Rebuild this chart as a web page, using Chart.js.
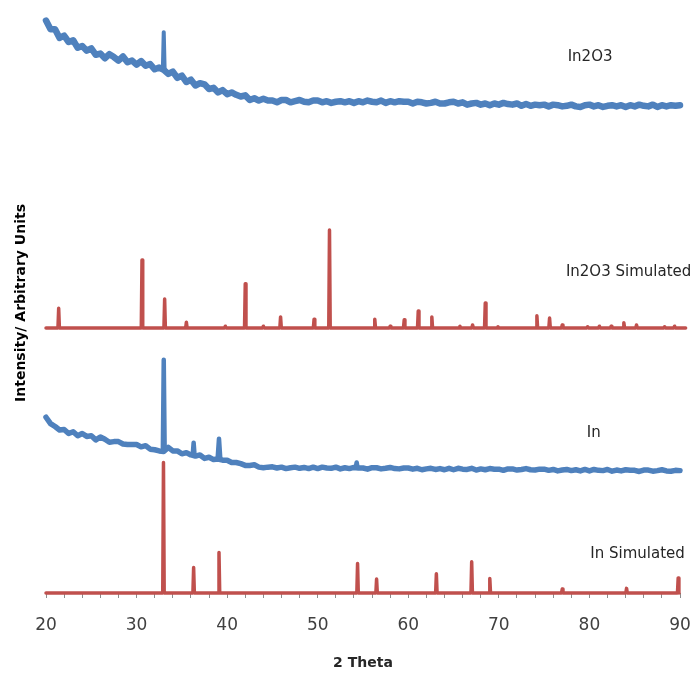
<!DOCTYPE html>
<html>
<head>
<meta charset="utf-8">
<script src="https://cdn.jsdelivr.net/npm/chart.js@4"></script>
<style>
  html, body { margin: 0; padding: 0; background: #fff; }
  canvas { display: block; }
</style>
</head>
<body>
<canvas id="xrd" width="694" height="676"></canvas>
<script>
// Powder XRD patterns, stacked with arbitrary intensity offsets.

// Measured scans: background counts on a 0.5° grid starting at 20°
const scanStart = 20;
const scanStep = 0.5;

const in2o3Counts = [
  98.7, 97.2, 97.2, 95.7, 96.1, 95.0, 95.3, 94.0, 94.3, 93.5,
  93.9, 92.8, 93.0, 92.2, 92.9, 92.4, 91.8, 92.5, 91.5, 91.8,
  91.1, 91.7, 90.9, 91.2, 90.3, 90.6, 90.2, 89.5, 89.9, 88.8,
  89.2, 88.1, 88.5, 87.5, 87.9, 87.7, 86.9, 87.1, 86.3, 86.7,
  86.0, 86.3, 85.9, 85.6, 85.8, 85.0, 85.3, 84.9, 85.2, 84.9,
  84.9, 84.6, 85.0, 85.0, 84.6, 84.8, 85.0, 84.7, 84.6, 84.9,
  84.9, 84.6, 84.8, 84.5, 84.7, 84.8, 84.6, 84.8, 84.5, 84.8,
  84.6, 84.9, 84.7, 84.6, 84.9, 84.5, 84.8, 84.6, 84.8, 84.7,
  84.7, 84.4, 84.7, 84.6, 84.4, 84.5, 84.7, 84.4, 84.4, 84.6,
  84.7, 84.4, 84.6, 84.2, 84.4, 84.5, 84.2, 84.4, 84.1, 84.4,
  84.2, 84.5, 84.3, 84.2, 84.4, 84.0, 84.3, 84.0, 84.2, 84.1,
  84.2, 83.9, 84.2, 84.1, 83.9, 84.0, 84.2, 83.9, 83.8, 84.1,
  84.2, 83.9, 84.1, 83.8, 84.0, 84.1, 83.9, 84.1, 83.8, 84.1,
  83.9, 84.2, 84.0, 83.9, 84.2, 83.8, 84.1, 83.9, 84.1, 84.0,
  84.1, 83.9, 84.0
];
// sharp reflections, finer sampling: [2θ, counts]
const in2o3Reflections = [
  [[32.9, 90.3], [33.0, 96.7], [33.1, 90.1]]
];

const inCounts = [
  30.3, 29.2, 28.7, 28.1, 28.2, 27.5, 27.8, 27.1, 27.5, 27.0,
  27.1, 26.4, 26.9, 26.5, 26.0, 26.1, 26.1, 25.7, 25.6, 25.6,
  25.6, 25.2, 25.4, 24.8, 24.7, 24.5, 24.4, 25.1, 24.5, 24.5,
  24.0, 24.2, 23.8, 23.6, 23.8, 23.2, 23.4, 23.0, 23.1, 22.9,
  22.9, 22.5, 22.5, 22.3, 22.0, 22.0, 22.1, 21.7, 21.6, 21.7,
  21.75, 21.55, 21.7, 21.45, 21.6, 21.7, 21.5, 21.65, 21.45, 21.7,
  21.45, 21.7, 21.55, 21.5, 21.7, 21.4, 21.6, 21.45, 21.65, 21.55,
  21.55, 21.35, 21.6, 21.6, 21.4, 21.5, 21.65, 21.45, 21.4, 21.55,
  21.55, 21.35, 21.5, 21.25, 21.4, 21.5, 21.3, 21.45, 21.25, 21.5,
  21.25, 21.5, 21.35, 21.3, 21.5, 21.2, 21.4, 21.25, 21.45, 21.35,
  21.35, 21.15, 21.4, 21.4, 21.2, 21.3, 21.45, 21.25, 21.2, 21.35,
  21.35, 21.15, 21.3, 21.05, 21.2, 21.3, 21.1, 21.25, 21.05, 21.3,
  21.05, 21.3, 21.15, 21.1, 21.3, 21.0, 21.2, 21.05, 21.25, 21.15,
  21.15, 20.95, 21.2, 21.2, 21.0, 21.1, 21.25, 21.05, 21.0, 21.15,
  21.1
];
const inReflections = [
  [[32.9, 24.4], [33.0, 40.2], [33.1, 24.6]],
  [[36.2, 23.8], [36.3, 25.9], [36.4, 23.8]],
  [[38.95, 23.2], [39.1, 26.6], [39.25, 23.0]],
  [[54.2, 21.6], [54.3, 22.5], [54.4, 21.6]]
];

// Simulated patterns: peak positions (2θ) and relative intensities
const in2o3SimTheta = [21.4, 30.6, 33.1, 35.5, 39.8, 42.0, 44.0, 45.9, 49.6, 51.3,
  56.3, 58.0, 59.55, 61.1, 62.6, 65.7, 67.1, 68.5, 69.9, 74.2,
  75.6, 77.0, 79.8, 81.1, 82.4, 83.8, 85.2, 88.3, 89.4, 90.7];
const in2o3SimIntensity = [3.4, 11.7, 5.0, 1.0, 0.3, 7.6, 0.3, 1.9, 1.5, 16.9,
  1.5, 0.3, 1.4, 2.9, 1.9, 0.3, 0.5, 4.3, 0.2, 2.1,
  1.7, 0.5, 0.2, 0.3, 0.3, 0.9, 0.5, 0.2, 0.3, 1.4];
const in2o3SimRange = [20, 90.8];
const in2o3SimOffset = 45.7;

const inSimTheta = [32.97, 36.3, 39.1, 54.4, 56.5, 63.1, 67.0, 69.0, 77.0, 84.1, 89.8];
const inSimIntensity = [22.5, 4.4, 7.0, 5.1, 2.4, 3.3, 5.4, 2.5, 0.7, 0.8, 2.6];
const inSimRange = [20, 89.9];
const inSimOffset = 0;

// Axis
const xMin = 20, xMax = 90, xMinorStep = 2, xLabelStep = 10;

const seriesLabels = [
  { text: 'In2O3',           x: 77.6, y: 92.4 },
  { text: 'In2O3 Simulated', x: 77.4, y: 55.3 },
  { text: 'In',              x: 79.7, y: 27.6 },
  { text: 'In Simulated',    x: 80.1, y: 6.7 }
];

// ---- build point lists ----
function scanPoints(counts) {
  return counts.map((c, i) => ({ x: scanStart + i * scanStep, y: c }));
}

// each reflection is its own short segment, separated by gaps
function reflectionPoints(reflections) {
  const pts = [];
  reflections.forEach((r, k) => {
    if (k > 0) pts.push({ x: r[0][0], y: null });
    r.forEach(([t, c]) => pts.push({ x: t, y: c }));
  });
  return pts;
}

function stickPoints(theta, intensity, offset, range) {
  const half = 0.08;
  const pts = [{ x: range[0], y: offset }];
  theta.forEach((t, i) => {
    pts.push({ x: t - half, y: offset });
    pts.push({ x: t, y: offset + intensity[i] });
    pts.push({ x: t + half, y: offset });
  });
  pts.push({ x: range[1], y: offset });
  return pts;
}

const BLUE = '#4F81BD';
const RED = '#C0504D';

const seriesLabelPlugin = {
  id: 'seriesLabels',
  afterDatasetsDraw(chart) {
    const { ctx, scales: { x, y } } = chart;
    ctx.save();
    ctx.font = '15px "DejaVu Sans"';
    ctx.fillStyle = '#262626';
    ctx.textAlign = 'left';
    ctx.textBaseline = 'middle';
    seriesLabels.forEach(l => {
      ctx.fillText(l.text, x.getPixelForValue(l.x), y.getPixelForValue(l.y));
    });
    ctx.restore();
  }
};

const common = { pointRadius: 0, tension: 0, clip: false, borderJoinStyle: 'round', borderCapStyle: 'round', fill: false, spanGaps: false };

new Chart(document.getElementById('xrd'), {
  type: 'line',
  data: {
    datasets: [
      { ...common, label: 'In2O3', data: scanPoints(in2o3Counts), borderColor: BLUE, borderWidth: 6.5 },
      { ...common, label: 'In2O3 reflections', data: reflectionPoints(in2o3Reflections), borderColor: BLUE, borderWidth: 4 },
      { ...common, label: 'In2O3 Simulated', data: stickPoints(in2o3SimTheta, in2o3SimIntensity, in2o3SimOffset, in2o3SimRange), borderColor: RED, borderWidth: 3.5 },
      { ...common, label: 'In', data: scanPoints(inCounts), borderColor: BLUE, borderWidth: 5.5 },
      { ...common, label: 'In reflections', data: reflectionPoints(inReflections), borderColor: BLUE, borderWidth: 4.5 },
      { ...common, label: 'In Simulated', data: stickPoints(inSimTheta, inSimIntensity, inSimOffset, inSimRange), borderColor: RED, borderWidth: 3.5 }
    ]
  },
  options: {
    responsive: false,
    animation: false,
    events: [],
    layout: { padding: { top: 13, left: 8.6, right: 14, bottom: 0 } },
    plugins: { legend: { display: false }, tooltip: { enabled: false } },
    scales: {
      x: {
        type: 'linear',
        min: xMin,
        max: xMax,
        afterFit(scale) {
          // keep the plot edges fixed regardless of tick label padding
          scale.paddingLeft = 10;
          scale.paddingRight = 10;
        },
        grid: { display: true, drawOnChartArea: false, drawTicks: true, tickLength: 5, color: '#8c8c8c', lineWidth: 1 },
        border: { display: true, color: '#868686', width: 1 },
        ticks: {
          stepSize: xMinorStep,
          autoSkip: false,
          maxRotation: 0,
          padding: 19.5,
          color: '#404040',
          font: { family: '"DejaVu Sans"', size: 17, lineHeight: 1 },
          callback: v => (Math.abs(v % xLabelStep) < 1e-9 ? String(v) : '')
        },
        title: {
          display: true,
          text: '2 Theta',
          color: '#262626',
          font: { family: '"DejaVu Sans"', size: 14, weight: 'bold', lineHeight: 1 },
          padding: { top: 2, bottom: 6 }
        }
      },
      y: {
        min: 0,
        max: 100,
        grid: { display: false, drawTicks: false },
        border: { display: false },
        ticks: { display: false },
        title: {
          display: true,
          text: 'Intensity/ Arbitrary Units',
          color: '#000',
          font: { family: '"DejaVu Sans"', size: 14, weight: 'bold' },
          padding: { top: 4, bottom: 16.6 }
        }
      }
    }
  },
  plugins: [seriesLabelPlugin]
});
</script>
</body>
</html>
